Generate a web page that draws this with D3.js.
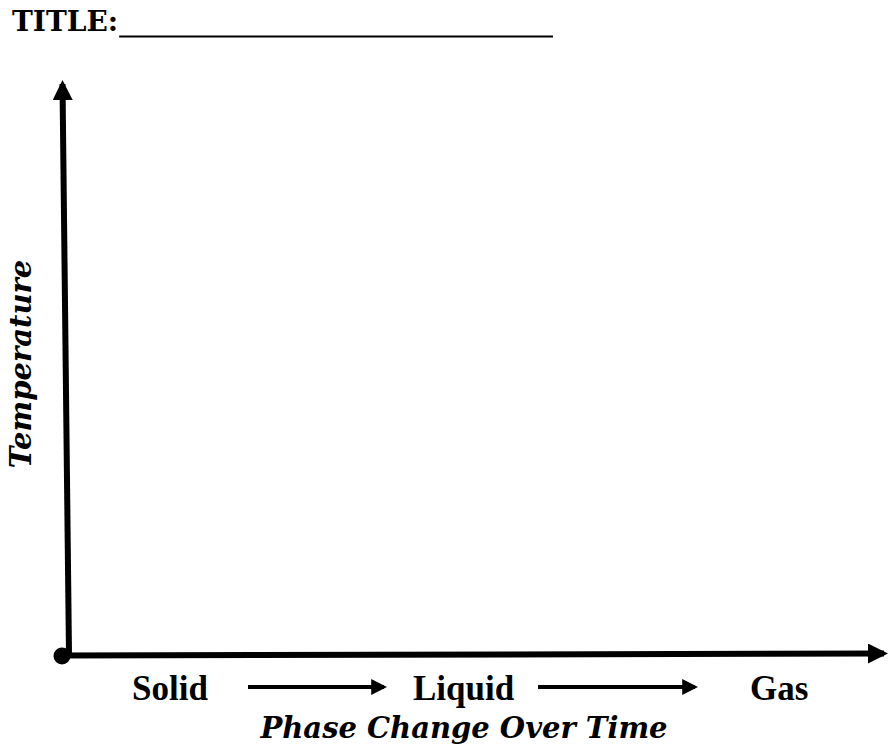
<!DOCTYPE html>
<html>
<head>
<meta charset="utf-8">
<script src="https://cdn.jsdelivr.net/npm/d3@7"></script>
<style>
  html, body { margin: 0; padding: 0; background: #fff; }
  svg { display: block; }
</style>
</head>
<body>
<svg id="chart"></svg>
<script>
// chart texts
const title_label = 'TITLE:';
const x_title = 'Phase Change Over Time';
const y_title = 'Temperature';
// phases along the x axis (left to right)
const phases = ['Solid', 'Liquid', 'Gas'];
// empty axes: no series plotted, only the frame
const x_domain = [0, 1];
const y_domain = [0, 1];

const width = 890, height = 745;

const svg = d3.select('#chart')
    .attr('width', width)
    .attr('height', height);

// arrow heads
const defs = svg.append('defs');
function add_head(id, size) {
    defs.append('marker')
        .attr('id', id)
        .attr('viewBox', '0 0 10 10')
        .attr('refX', 8).attr('refY', 5)
        .attr('markerUnits', 'userSpaceOnUse')
        .attr('markerWidth', size).attr('markerHeight', size)
        .attr('orient', 'auto')
        .append('path').attr('d', 'M0,0 L10,5 L0,10 Z').attr('fill', '#000');
}
add_head('head', 20);
add_head('small_head', 16);

// title + blank line to write on
const title = svg.append('text')
    .attr('x', 12).attr('y', 31)
    .attr('font-family', '"DejaVu Serif", serif')
    .attr('font-weight', 'bold')
    .attr('font-size', 28)
    .text(title_label);
const tb = title.node().getBBox();
svg.append('line')
    .attr('x1', tb.x + tb.width + 1).attr('x2', 553)
    .attr('y1', 36.5).attr('y2', 36.5)
    .attr('stroke', '#000').attr('stroke-width', 2);

// scales (the drawn frame is slightly skewed like the hand-made original)
const xscale = d3.scaleLinear().domain(x_domain).range([62, 884]);
const yscale = d3.scaleLinear().domain(y_domain).range([655, 84]);

// y axis
svg.append('line')
    .attr('x1', 69).attr('y1', yscale(y_domain[0]))
    .attr('x2', 62.5).attr('y2', yscale(y_domain[1]))
    .attr('stroke', '#000').attr('stroke-width', 6)
    .attr('marker-end', 'url(#head)');

// x axis
svg.append('line')
    .attr('x1', xscale(x_domain[0])).attr('y1', 655.5)
    .attr('x2', xscale(x_domain[1])).attr('y2', 653.5)
    .attr('stroke', '#000').attr('stroke-width', 6)
    .attr('marker-end', 'url(#head)');

// origin dot
svg.append('circle')
    .attr('cx', xscale(x_domain[0])).attr('cy', 656)
    .attr('r', 8.5).attr('fill', '#000');

// phase labels under the x axis
const phase_x = d3.scaleOrdinal().domain(phases).range([132, 413, 750]);
svg.append('g')
    .selectAll('text').data(phases).join('text')
    .attr('x', d => phase_x(d))
    .attr('y', 700)
    .attr('font-family', '"Liberation Serif", "Times New Roman", serif')
    .attr('font-weight', 'bold')
    .attr('font-size', 35)
    .text(d => d);

// arrows between phases
const arrow_ends = d3.scaleOrdinal().domain(phases.slice(1)).range([[248, 384], [538, 695]]);
svg.append('g')
    .selectAll('line').data(phases.slice(1)).join('line')
    .attr('x1', d => arrow_ends(d)[0])
    .attr('x2', d => arrow_ends(d)[1])
    .attr('y1', 687).attr('y2', 687)
    .attr('stroke', '#000').attr('stroke-width', 4)
    .attr('marker-end', 'url(#small_head)');

// axis titles
svg.append('text')
    .attr('x', 464).attr('y', 738)
    .attr('text-anchor', 'middle')
    .attr('font-family', '"DejaVu Serif", serif')
    .attr('font-weight', 'bold')
    .attr('font-style', 'italic')
    .attr('font-size', 29)
    .text(x_title);

svg.append('text')
    .attr('transform', 'translate(31, 364) rotate(-90)')
    .attr('text-anchor', 'middle')
    .attr('font-family', '"DejaVu Serif", serif')
    .attr('font-weight', 'bold')
    .attr('font-style', 'italic')
    .attr('font-size', 29)
    .text(y_title);
</script>
</body>
</html>
